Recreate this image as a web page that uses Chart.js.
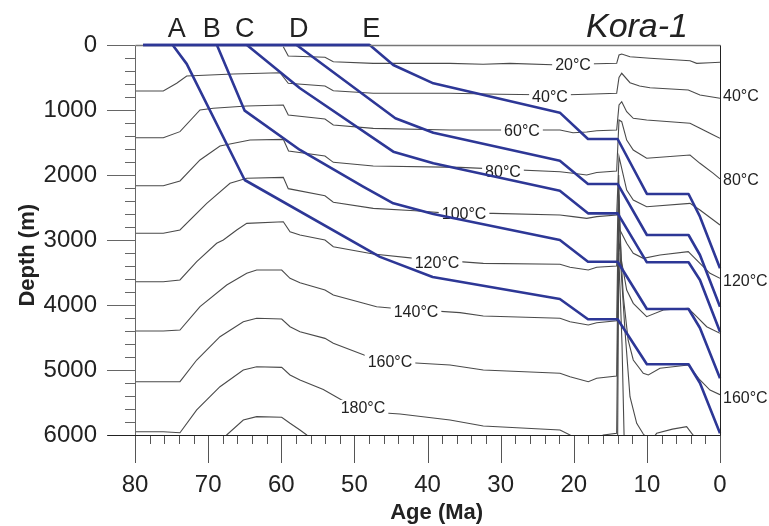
<!DOCTYPE html>
<html>
<head>
<meta charset="utf-8">
<script src="https://cdn.jsdelivr.net/npm/chart.js@4.4.0/dist/chart.umd.min.js"></script>
<style>
html,body{margin:0;padding:0;background:#fff;}
#wrap{width:769px;height:526px;}
</style>
</head>
<body>
<div id="wrap"><canvas id="c" width="769" height="526"></canvas></div>
<script>
// ---------- axis tick labels ----------
const ageTicks = [80, 70, 60, 50, 40, 30, 20, 10, 0];
const depthTicks = [0, 1000, 2000, 3000, 4000, 5000, 6000];

// ---------- burial curves (age Ma, depth m) ----------
const burialNames = ['A', 'B', 'C', 'D', 'E'];
const burialA_age   = [74.85, 72.93, 65.0, 46.5, 39.3, 21.9, 18.05, 14.0, 10.0, 4.3, 2.74, 0];
const burialA_depth = [0, 290, 2077, 3260, 3570, 3908, 4220, 4220, 4912, 4912, 5200, 5974];
const burialB_age   = [68.8, 65.0, 57.44, 48.8, 44.68, 39.2, 21.9, 18.05, 14.0, 10.0, 4.3, 2.74, 0];
const burialB_depth = [0, 1010, 1615, 2180, 2436, 2600, 3000, 3334, 3334, 4062, 4062, 4354, 5128];
const burialC_age   = [64.7, 57.44, 44.68, 39.2, 21.9, 18.05, 14.0, 10.0, 4.3, 2.74, 0];
const burialC_depth = [0, 666, 1641, 1820, 2241, 2590, 2590, 3343, 3343, 3615, 4411];
const burialD_age   = [57.9, 44.4, 39.2, 21.9, 18.05, 14.0, 10.0, 4.3, 2.74, 0];
const burialD_depth = [0, 1128, 1350, 1780, 2138, 2138, 2923, 2923, 3231, 4026];
const burialE_age   = [78.9, 47.9, 44.68, 39.2, 21.9, 18.05, 14.0, 10.0, 4.3, 2.74, 0];
const burialE_depth = [0, 0, 308, 590, 1041, 1446, 1446, 2292, 2292, 2641, 3436];
const burialLetterAge = [74.3, 69.5, 65.0, 57.6, 47.7];

// ---------- isotherms (age Ma, depth m) ----------
const iso20_age   = [59.72, 59.04, 54.02, 52.88, 47.42, 36.92, 32.4, 28.72, 21.88, 18.23, 14.13, 13.81, 13.44, 12.31, 9.57, 4.10, 3.19, 1.37, 0];
const iso20_depth = [26, 169, 189, 257, 282, 282, 297, 282, 308, 292, 282, 154, 138, 180, 205, 242, 282, 272, 266];

const iso40_age   = [80, 76.13, 74.3, 72.93, 66.56, 60.17, 59.04, 54.02, 52.88, 47.42, 36.92, 30.09, 21.88, 18.23, 14.13, 13.81, 13.44, 12.31, 11.0, 9.57, 4.34, 2.74, 0];
const iso40_depth = [708, 708, 589, 477, 446, 426, 589, 631, 703, 743, 743, 758, 769, 758, 743, 500, 435, 580, 631, 657, 692, 769, 820];

const iso60_age   = [80, 76.13, 73.85, 71.11, 69.29, 64.72, 59.72, 59.04, 54.02, 52.88, 47.42, 36.92, 21.88, 20.1, 18.23, 16.86, 14.13, 13.81, 13.44, 12.76, 11.86, 10.03, 4.10, 2.74, 0.91, 0];
const iso60_depth = [1426, 1426, 1333, 1000, 974, 938, 923, 1077, 1138, 1231, 1282, 1308, 1308, 1349, 1338, 1320, 1308, 923, 872, 1026, 1128, 1154, 1205, 1282, 1385, 1435];

const iso80_age   = [80, 76.13, 73.85, 71.11, 68.38, 64.27, 59.72, 59.0, 54.02, 52.88, 47.42, 35.56, 21.88, 20.1, 18.23, 16.86, 14.13, 13.81, 13.44, 12.76, 11.86, 10.03, 4.10, 2.74, 0.91, 0];
const iso80_depth = [2165, 2165, 2092, 1769, 1554, 1462, 1452, 1630, 1708, 1805, 1862, 1882, 1949, 1974, 2000, 1962, 1938, 1154, 1180, 1462, 1615, 1743, 1692, 1820, 1974, 2060];

const iso100_age   = [80, 76.13, 73.85, 70.19, 67.01, 64.72, 59.72, 59.04, 54.02, 52.88, 47.42, 41.71, 36.92, 31.04, 21.88, 20.1, 18.23, 16.86, 14.13, 13.81, 12.76, 11.86, 10.03, 4.10, 2.74, 0.91, 0];
const iso100_depth = [2897, 2897, 2846, 2436, 2128, 2051, 2036, 2210, 2320, 2420, 2513, 2550, 2590, 2590, 2616, 2641, 2667, 2641, 2616, 1718, 2231, 2385, 2488, 2436, 2539, 2692, 2769];

const iso120_age   = [80, 76.13, 73.85, 71.56, 68.83, 67.92, 66.09, 64.72, 59.72, 58.8, 57.44, 54.02, 52.88, 47.42, 41.71, 32.37, 21.88, 20.51, 18.01, 16.86, 14.13, 13.85, 13.68, 12.76, 11.86, 10.49, 8.21, 4.34, 2.74, 1.37, 0];
const iso120_depth = [3642, 3642, 3615, 3334, 3051, 3000, 2846, 2744, 2719, 2873, 2923, 3000, 3103, 3215, 3282, 3359, 3374, 3420, 3462, 3420, 3400, 2000, 2846, 3051, 3205, 3282, 3231, 3180, 3359, 3512, 3589];

const iso140_age   = [80, 76.13, 73.85, 71.11, 67.46, 64.72, 63.36, 59.94, 58.8, 57.44, 54.02, 52.88, 46.96, 44.68, 35.56, 32.37, 21.88, 20.51, 18.01, 16.86, 14.13, 13.85, 13.5, 12.76, 11.86, 10.03, 7.75, 4.34, 3.19, 1.82, 0];
const iso140_depth = [4400, 4400, 4385, 4026, 3692, 3512, 3462, 3462, 3589, 3657, 3769, 3846, 4026, 4051, 4118, 4169, 4205, 4257, 4308, 4272, 4242, 2300, 3300, 3769, 3974, 4180, 4077, 4051, 4180, 4334, 4436];

const iso160_age   = [80, 76.13, 73.85, 71.56, 68.38, 65.19, 63.36, 59.94, 58.8, 57.44, 54.02, 52.88, 48.32, 45.13, 36.92, 32.37, 21.88, 20.51, 18.01, 16.86, 14.13, 13.85, 13.22, 12.56, 11.86, 10.49, 9.8, 8.21, 4.34, 2.74, 1.37, 0];
const iso160_depth = [5180, 5180, 5180, 4846, 4488, 4257, 4205, 4215, 4334, 4411, 4513, 4589, 4785, 4870, 4923, 5000, 5051, 5103, 5180, 5128, 5092, 2600, 3872, 4539, 4846, 5051, 5077, 4974, 4923, 5154, 5308, 5380];

const iso180_age   = [80, 76.13, 73.85, 71.56, 68.38, 65.19, 63.36, 59.94, 58.8, 57.44, 54.25, 51.74, 48.82, 45.81, 43.76, 36.92, 32.37, 21.88, 20.51, 19.0, 17.5, 15.96, 14.13, 13.85, 13.0, 12.31, 11.39, 10.49, 9.5, 8.66, 6.5, 4.56, 3.87, 3.0];
const iso180_depth = [5949, 5949, 5965, 5615, 5257, 5000, 4949, 4959, 5077, 5154, 5300, 5462, 5585, 5662, 5677, 5769, 5862, 5923, 6000, 6080, 6100, 6000, 5974, 2900, 4385, 5411, 5820, 5985, 6100, 5974, 5910, 5872, 5974, 6100];

const iso200_age   = [68.5, 67.46, 65.19, 63.36, 59.94, 58.8, 57.44, 56.52, 55.8];
const iso200_depth = [6150, 6000, 5769, 5718, 5728, 5820, 5923, 6000, 6100];
const iso200b_age   = [14.0, 13.85, 13.4, 13.1];
const iso200b_depth = [6100, 3200, 4600, 6100];

// ---------- isotherm labels ----------
const isoLabelText  = ['20°C', '40°C', '60°C', '80°C', '100°C', '120°C', '140°C', '160°C', '180°C'];
const isoLabelAge   = [20.1, 23.25, 27.08, 29.68, 35.0, 38.7, 41.57, 45.13, 48.82];
const isoLabelDepth = [308, 792, 1323, 1954, 2600, 3354, 4108, 4877, 5585];
const edgeLabelText  = ['40°C', '80°C', '120°C', '160°C'];
const edgeLabelDepth = [800, 2092, 3646, 5446];

const chartTitle = 'Kora-1';

// ---------- build ----------
const FONT = '"Liberation Sans", Arial, Helvetica, sans-serif';
const BLUE = '#2d3796';
const ISO = '#4a4a4a';
const TEXT = '#222';

function pts(a, d) { return a.map((v, i) => ({ x: v, y: d[i] })); }

const burialSets = [
  [burialA_age, burialA_depth], [burialB_age, burialB_depth], [burialC_age, burialC_depth],
  [burialD_age, burialD_depth], [burialE_age, burialE_depth]
];
const isoSets = [
  [iso20_age, iso20_depth], [iso40_age, iso40_depth], [iso60_age, iso60_depth],
  [iso80_age, iso80_depth], [iso100_age, iso100_depth], [iso120_age, iso120_depth],
  [iso140_age, iso140_depth], [iso160_age, iso160_depth], [iso180_age, iso180_depth],
  [iso200_age, iso200_depth], [iso200b_age, iso200b_depth]
];

const datasets = [];
burialSets.forEach((s, i) => datasets.push({
  label: 'Burial ' + burialNames[i], kind: 'burial', data: pts(s[0], s[1]),
  borderColor: BLUE, borderWidth: 2.6, pointRadius: 0, tension: 0, fill: false,
  order: 0, clip: 4, borderJoinStyle: 'round'
}));
isoSets.forEach((s, i) => datasets.push({
  label: 'Isotherm ' + i, kind: 'iso', data: pts(s[0], s[1]),
  borderColor: ISO, borderWidth: 1.1, pointRadius: 0, tension: 0, fill: false,
  order: 1, clip: 0
}));

let labelsDone = false;
const decor = {
  id: 'decor',
  beforeDatasetsDraw() { labelsDone = false; },
  beforeDatasetDraw(chart, args) {
    const ds = chart.data.datasets[args.index];
    if (labelsDone || ds.kind !== 'burial') return;
    labelsDone = true;
    const { ctx, scales: { x, y } } = chart;
    ctx.save();
    ctx.font = '16px ' + FONT;
    ctx.textAlign = 'center';
    ctx.textBaseline = 'middle';
    isoLabelText.forEach((t, i) => {
      const px = x.getPixelForValue(isoLabelAge[i]);
      const py = y.getPixelForValue(isoLabelDepth[i]);
      const w = ctx.measureText(t).width;
      ctx.fillStyle = '#fff';
      ctx.fillRect(px - w / 2 - 3, py - 8, w + 6, 16);
      ctx.fillStyle = TEXT;
      ctx.fillText(t, px, py + 1);
    });
    ctx.restore();
  },
  afterDraw(chart) {
    const { ctx, chartArea: ca, scales: { x, y } } = chart;
    ctx.save();
    ctx.lineWidth = 1;
    // y ticks
    ctx.strokeStyle = '#666';
    ctx.beginPath();
    for (let v = 0; v <= 6000; v += 200) {
      const py = Math.round(y.getPixelForValue(v)) + 0.5;
      const len = v % 1000 === 0 ? 28 : 10;
      ctx.moveTo(ca.left - len, py); ctx.lineTo(ca.left, py);
    }
    ctx.stroke();
    // x ticks
    ctx.strokeStyle = '#555';
    ctx.beginPath();
    for (let a = 0; a <= 80; a += 2) {
      const px = Math.round(x.getPixelForValue(a)) + 0.5;
      const len = a % 10 === 0 ? 28 : 9;
      ctx.moveTo(px, ca.bottom); ctx.lineTo(px, ca.bottom + len);
    }
    ctx.stroke();
    // frame
    const L = Math.round(ca.left) + 0.5, R = Math.round(ca.right) + 0.5;
    const T = Math.round(ca.top) + 0.5, B = Math.round(ca.bottom) + 0.5;
    ctx.strokeStyle = '#666';
    ctx.beginPath(); ctx.moveTo(L, T); ctx.lineTo(L, B); ctx.stroke();
    ctx.strokeStyle = '#777';
    ctx.lineWidth = 1.5;
    ctx.beginPath(); ctx.moveTo(L, T); ctx.lineTo(R, T); ctx.stroke();
    ctx.lineWidth = 1;
    ctx.strokeStyle = '#222';
    ctx.beginPath(); ctx.moveTo(L - 28, B); ctx.lineTo(R, B); ctx.moveTo(R, T); ctx.lineTo(R, B); ctx.stroke();
    // redraw surface line over frame
    ctx.strokeStyle = BLUE; ctx.lineWidth = 2.6;
    ctx.beginPath();
    ctx.moveTo(x.getPixelForValue(burialE_age[0]), y.getPixelForValue(burialE_depth[0]));
    ctx.lineTo(x.getPixelForValue(burialE_age[1]), y.getPixelForValue(burialE_depth[1]));
    ctx.stroke();
    // edge labels
    ctx.fillStyle = TEXT;
    ctx.font = '16px ' + FONT;
    ctx.textAlign = 'left';
    ctx.textBaseline = 'middle';
    edgeLabelText.forEach((t, i) => ctx.fillText(t, ca.right + 3, y.getPixelForValue(edgeLabelDepth[i])));
    // burial letters
    ctx.font = '27px ' + FONT;
    ctx.textAlign = 'center';
    ctx.textBaseline = 'alphabetic';
    burialNames.forEach((t, i) => ctx.fillText(t, x.getPixelForValue(burialLetterAge[i]), ca.top - 8));
    // title
    ctx.font = 'italic 34px ' + FONT;
    ctx.textAlign = 'right';
    ctx.fillText(chartTitle, ca.right - 32, ca.top - 8);
    ctx.restore();
  }
};

Chart.defaults.font.family = FONT;
new Chart(document.getElementById('c'), {
  type: 'line',
  data: { datasets },
  options: {
    responsive: false,
    animation: false,
    devicePixelRatio: 1,
    layout: { padding: { left: 0, right: 49, top: 45, bottom: 0 } },
    plugins: { legend: { display: false }, tooltip: { enabled: false } },
    scales: {
      x: {
        type: 'linear', position: 'bottom', min: 0, max: 80, reverse: true,
        afterBuildTicks: s => { s.ticks = ageTicks.map(v => ({ value: v })); },
        afterFit: s => { s.height = 91; s.paddingLeft = 0; s.paddingRight = 0; },
        grid: { display: false, drawTicks: false, drawOnChartArea: false },
        border: { display: false },
        ticks: { color: TEXT, font: { size: 24 }, padding: 36, maxRotation: 0, autoSkip: false, callback: v => String(v) },
        title: { display: true, text: '   Age (Ma)', color: TEXT, font: { size: 22, weight: 'bold' }, padding: { top: 0, bottom: 0 } }
      },
      y: {
        type: 'linear', position: 'left', min: 0, max: 6000, reverse: true,
        afterBuildTicks: s => { s.ticks = depthTicks.map(v => ({ value: v })); },
        afterFit: s => { s.width = 135; s.paddingTop = 0; s.paddingBottom = 0; },
        grid: { display: false, drawTicks: false, drawOnChartArea: false },
        border: { display: false },
        ticks: { color: TEXT, font: { size: 24 }, padding: 38, autoSkip: false, callback: v => String(v) },
        title: { display: true, text: 'Depth (m)     ', color: TEXT, font: { size: 22, weight: 'bold' }, padding: { top: 15, bottom: 0 } }
      }
    }
  },
  plugins: [decor]
});
</script>
</body>
</html>
